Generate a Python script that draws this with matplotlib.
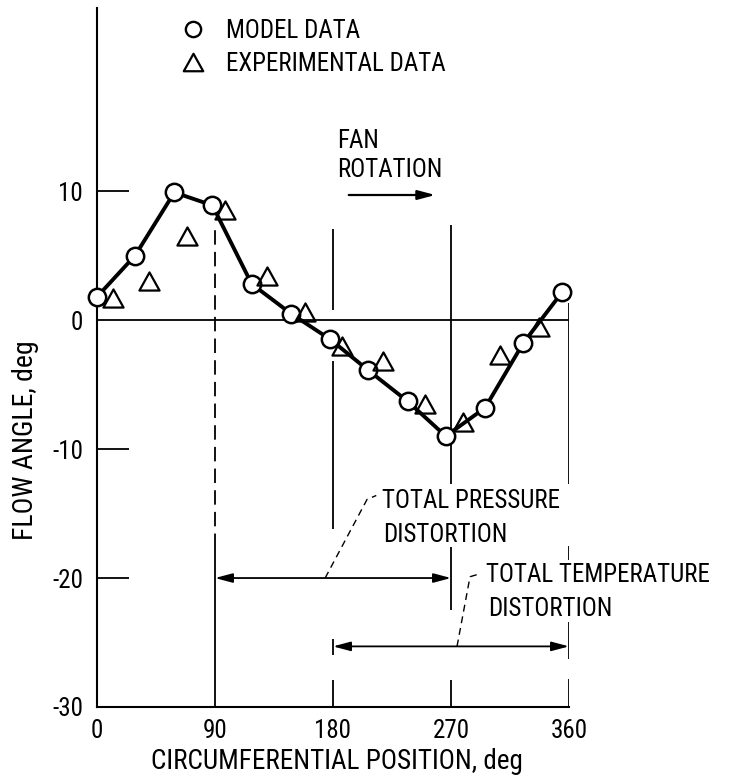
import matplotlib
matplotlib.use('Agg')
import numpy as np
import matplotlib.pyplot as plt
from matplotlib.path import Path
from matplotlib.lines import Line2D
from matplotlib import font_manager as fm

names = {f.name for f in fm.fontManager.ttflist}
cands = ['Roboto Condensed', 'Liberation Sans Narrow', 'Open Sans Condensed', 'Roboto']
fam = [c for c in cands if c in names][:1]
plt.rcParams['font.family'] = fam + ['DejaVu Sans']

# ---- data ----
model_pos = [0, 29, 59, 88, 118, 148, 178, 207, 237, 266, 296, 325, 355]
model_angle = [1.8, 5.0, 9.9, 8.9, 2.8, 0.5, -1.5, -3.9, -6.3, -9.0, -6.8, -1.8, 2.2]
exp_pos = [12, 40, 69, 98, 130, 159, 187, 218, 250, 279, 307, 337]
exp_angle = [1.7, 3.0, 6.5, 8.5, 3.4, 0.6, -2.0, -3.2, -6.5, -7.9, -2.7, -0.5]

x_ticks = [0, 90, 180, 270, 360]
y_ticks = [-30, -20, -10, 0, 10]
y_ticklabels = ['-30', '-20', '-10', '0', '10']

pressure_span = (90, 270)
pressure_level = -20
temperature_span = (180, 360)
temperature_level = -25.3

FS = 18
W, H = 730, 781
fig = plt.figure(figsize=(W / 100, H / 100), dpi=100)
ax = fig.add_axes([97 / W, 74 / H, 472 / W, 699 / H])
ax.set_xlim(0, 360)
ax.set_ylim(-30, 24.2)

for s in ['top', 'right']:
    ax.spines[s].set_visible(False)
for s in ['left', 'bottom']:
    ax.spines[s].set_linewidth(1.5)

# ticks
ax.set_xticks(x_ticks)
ax.set_xticklabels([str(t) for t in x_ticks], fontsize=FS)
ax.set_yticks(y_ticks)
ax.set_yticklabels(y_ticklabels, fontsize=FS)
ax.tick_params(axis='x', length=0, pad=9)
ax.tick_params(axis='y', direction='in', length=23, width=1.3, pad=10)
for t, v in zip(ax.yaxis.get_major_ticks(), y_ticks):
    if v in (0, -30):
        t.tick1line.set_visible(False)

ax.set_xlabel('CIRCUMFERENTIAL POSITION, deg', fontsize=19.5)
ax.xaxis.set_label_coords(0.508, -0.058)
ax.set_ylabel('FLOW ANGLE, deg', fontsize=20)
ax.yaxis.set_label_coords(-0.123, 0.382)

# zero line
ax.axhline(0, color='black', lw=1.3, zorder=1)

# vertical reference lines (segments)
lc = dict(color='black', lw=1.3, zorder=1)
ax.vlines(90, -17.7, 7.5, linestyles=(0, (8, 4)), **lc)
ax.vlines(90, -30, -17.7, **lc)
ax.vlines(180, 0.8, 7.1, **lc)
ax.vlines(180, -16.2, -3.2, **lc)
ax.vlines(180, -26.0, -24.7, **lc)
ax.vlines(180, -30, -27.9, **lc)
ax.vlines(270, -12.7, 7.4, **lc)
ax.vlines(270, -22.5, -17.6, **lc)
ax.vlines(270, -30, -27.9, **lc)
ax.vlines(360, -12.7, 1.3, **lc)
ax.vlines(360, -18.6, -17.5, **lc)
ax.vlines(360, -26.3, -23.4, **lc)
ax.vlines(360, -30, -27.8, **lc)

# data
ax.plot(model_pos, model_angle, color='black', lw=2.8, zorder=3, clip_on=False)
ax.plot(model_pos, model_angle, ls='none', marker='o', markersize=12.5,
        mfc='white', mec='black', mew=1.8, zorder=4, clip_on=False)
tri = Path([(0, 0.45), (-0.5, -0.45), (0.5, -0.45), (0, 0.45)],
           [Path.MOVETO, Path.LINETO, Path.LINETO, Path.CLOSEPOLY])
ax.plot(exp_pos, exp_angle, ls='none', marker=tri, markersize=14.5,
        mfc='none', mec='black', mew=1.6, zorder=5, clip_on=False)

# arrows
astyle = '<|-|>,head_length=0.75,head_width=0.2'
for span, lev in [(pressure_span, pressure_level), (temperature_span, temperature_level)]:
    ax.annotate('', xy=(span[1], lev), xytext=(span[0], lev),
                arrowprops=dict(arrowstyle=astyle, color='black', lw=1.3,
                                shrinkA=0, shrinkB=0, mutation_scale=14))
ax.annotate('', xy=(258, 9.7), xytext=(192, 9.7),
            arrowprops=dict(arrowstyle='-|>,head_length=0.75,head_width=0.2',
                            color='black', lw=1.6, shrinkA=0, shrinkB=0,
                            mutation_scale=14))

# texts
ax.text(183, 13.9, 'FAN', fontsize=FS, ha='left', va='center')
ax.text(183, 11.6, 'ROTATION', fontsize=FS, ha='left', va='center')
ax.text(217, -14.0, 'TOTAL PRESSURE', fontsize=FS, ha='left', va='center')
ax.text(218, -16.7, 'DISTORTION', fontsize=FS, ha='left', va='center')
ax.text(297, -19.8, 'TOTAL TEMPERATURE', fontsize=FS, ha='left', va='center')
ax.text(298, -22.4, 'DISTORTION', fontsize=FS, ha='left', va='center')

# leader lines
dash = (0, (5, 3.5))
ax.plot([174, 206, 213], [-20, -13.9, -13.6], color='black', lw=1.0, ls=dash, zorder=2)
ax.plot([274.6, 284.5, 291], [-25.3, -19.9, -19.7], color='black', lw=1.0, ls=dash, zorder=2)

# legend
h1 = Line2D([], [], ls='none', marker='o', markersize=11, mfc='white', mec='black', mew=1.7)
h2 = Line2D([], [], ls='none', marker=tri, markersize=14, mfc='none', mec='black', mew=1.6)
ax.legend([h1, h2], ['MODEL DATA', 'EXPERIMENTAL DATA'], loc='upper left',
          bbox_to_anchor=(180 / W, 1 - 19 / H), bbox_transform=fig.transFigure,
          frameon=False, fontsize=FS, handlelength=1.0, handletextpad=0.85,
          labelspacing=0.35, borderpad=0, borderaxespad=0)

fig.savefig('out.png', dpi=100)
